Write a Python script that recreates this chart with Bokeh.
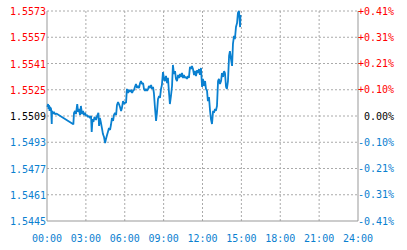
from bokeh.plotting import figure
from bokeh.models import Range1d
from bokeh.core.properties import value
from bokeh.embed import file_html
from bokeh.resources import INLINE

# ---- data (minutes since 00:00, price) ----
times = [2, 5, 7, 9, 12, 14, 19, 22, 23, 28, 32, 37, 45,
         122, 125, 130, 134, 140, 144, 148, 153, 157, 162, 167, 171, 176, 181, 185,
         190, 194, 199, 204, 207, 211, 215, 220, 227, 232, 238, 241, 245, 250, 255,
         259, 264, 269, 273, 278, 282, 287, 292, 296, 301, 306, 310, 315, 320, 324,
         329, 333, 338, 343, 347, 352, 357, 361, 366, 370, 375, 380, 384, 389, 394,
         398, 403, 407, 412, 417, 421, 426, 431, 435, 440, 445, 449, 454, 458, 463,
         468, 472, 477, 482, 486, 491, 495, 500, 505, 509, 514, 519, 523, 528, 532,
         537, 542, 546, 551, 556, 560, 565, 569, 574, 579, 583, 588, 593, 597, 602,
         607, 611, 616, 620, 625, 630, 634, 639, 644, 648, 653, 657, 662, 667, 671,
         676, 681, 685, 690, 695, 699, 704, 708, 713, 718, 722, 727, 732, 736, 741,
         745, 750, 755, 759, 764, 769, 773, 778, 782, 787, 792, 796, 801, 806, 810,
         815, 820, 824, 829, 833, 838, 843, 847, 852, 857, 861, 866, 870, 875, 880,
         884, 889, 894, 896]
prices = [1.55145, 1.55163, 1.55133, 1.55157, 1.55121, 1.55145, 1.55133, 1.55041, 1.55121,
          1.55102, 1.55115, 1.55102, 1.55104,
          1.55039, 1.55109, 1.55121, 1.55102, 1.55163, 1.55115, 1.55133, 1.55096, 1.55151,
          1.55102, 1.55121, 1.55096, 1.55109, 1.55090, 1.55096,
          1.55084, 1.55090, 1.55078, 1.55090, 1.54993, 1.55072, 1.55054, 1.55084, 1.55066,
          1.55090, 1.55110, 1.55029, 1.55078, 1.55047, 1.55011,
          1.54980, 1.54962, 1.54925, 1.54950, 1.54974, 1.54993, 1.55017, 1.55005, 1.55035,
          1.55078, 1.55060, 1.55096, 1.55109, 1.55096, 1.55157,
          1.55175, 1.55163, 1.55145, 1.55121, 1.55139, 1.55181, 1.55163, 1.55175, 1.55169,
          1.55255, 1.55230, 1.55249, 1.55237, 1.55249, 1.55230,
          1.55243, 1.55249, 1.55267, 1.55285, 1.55261, 1.55273, 1.55261, 1.55291, 1.55303,
          1.55285, 1.55291, 1.55255, 1.55243, 1.55255, 1.55243,
          1.55255, 1.55273, 1.55261, 1.55279, 1.55255, 1.55267, 1.55230, 1.55139, 1.55060,
          1.55109, 1.55194, 1.55212, 1.55200, 1.55255, 1.55279,
          1.55358, 1.55316, 1.55303, 1.55334, 1.55291, 1.55322, 1.55230, 1.55163, 1.55212,
          1.55273, 1.55401, 1.55346, 1.55364, 1.55316, 1.55303,
          1.55340, 1.55322, 1.55346, 1.55328, 1.55352, 1.55322, 1.55340, 1.55322, 1.55328,
          1.55316, 1.55334, 1.55322, 1.55389, 1.55376, 1.55395,
          1.55376, 1.55340, 1.55364, 1.55334, 1.55370, 1.55352, 1.55376, 1.55340, 1.55383,
          1.55267, 1.55316, 1.55273, 1.55303, 1.55255, 1.55243,
          1.55181, 1.55206, 1.55121, 1.55072, 1.55041, 1.55121, 1.55109, 1.55133, 1.55121,
          1.55151, 1.55303, 1.55316, 1.55285, 1.55303, 1.55352,
          1.55328, 1.55364, 1.55352, 1.55267, 1.55255, 1.55303, 1.55456, 1.55486, 1.55437,
          1.55395, 1.55529, 1.55578, 1.55559, 1.55632, 1.55657,
          1.55718, 1.55730, 1.55632, 1.55706]

base_price = 1.5509
y_ticks = [1.5445, 1.5461, 1.5477, 1.5493, 1.5509, 1.5525, 1.5541, 1.5557, 1.5573]
x_ticks = [0, 180, 360, 540, 720, 900, 1080, 1260, 1440]
x_tick_labels = ["00:00", "03:00", "06:00", "09:00", "12:00", "15:00", "18:00", "21:00", "24:00"]

RED = "#ff0000"
BLUE = "#0a80d0"
BLACK = "#000000"
GRAY = "#999999"
GRID = "#aaaaaa"
FONT = "DejaVu Sans Mono"

W, H = 407, 250
M_L, M_R, M_T, M_B = 46.5, 49.5, 10.5, 29.5   # margins around the plotting box (px)

xmin, xmax = x_ticks[0], x_ticks[-1]
ymin, ymax = y_ticks[0], y_ticks[-1]
xs = (xmax - xmin) / (W - M_L - M_R)
ys = (ymax - ymin) / (H - M_T - M_B)

p = figure(width=W, height=H, output_backend="svg", toolbar_location=None,
           x_range=Range1d(xmin - M_L * xs, xmax + M_R * xs),
           y_range=Range1d(ymin - M_B * ys, ymax + M_T * ys),
           min_border=0, x_axis_location=None, y_axis_location=None)
p.outline_line_color = None
p.xgrid.visible = False
p.ygrid.visible = False
p.background_fill_color = "white"
p.border_fill_color = "white"

# dotted grid
inner_x = x_ticks[1:-1]
p.segment(x0=inner_x, y0=[ymin] * len(inner_x), x1=inner_x, y1=[ymax] * len(inner_x),
          line_color=GRID, line_dash="2 2", line_width=1)
hy = y_ticks[1:]
p.segment(x0=[xmin] * len(hy), y0=hy, x1=[xmax] * len(hy), y1=hy,
          line_color=GRID, line_dash="2 2", line_width=1)

# solid axis lines (left, right, bottom)
p.segment(x0=[xmin, xmax, xmin], y0=[ymin, ymin, ymin], x1=[xmin, xmax, xmax], y1=[ymax, ymax, ymin],
          line_color=GRAY, line_width=1)

# price line
p.line(times, prices, line_color=BLUE, line_width=1.8)

# coloured tick labels
def col(v):
    if v > base_price + 1e-9:
        return RED
    if v < base_price - 1e-9:
        return BLUE
    return BLACK

colors = [col(v) for v in y_ticks]
left_txt = ["%.4f" % v for v in y_ticks]
right_txt = []
for v in y_ticks:
    q = (v - base_price) / base_price * 100
    if q > 0.0001:
        right_txt.append("+%.2f%%" % q)
    elif q < -0.0001:
        right_txt.append("-%.2f%%" % abs(q))
    else:
        right_txt.append("0.00%")

n = len(y_ticks)
p.text(x=[xmin] * n, y=y_ticks, text=left_txt, text_color=colors, x_offset=-1,
       text_align="right", text_baseline="middle", text_font=value(FONT), text_font_size="10px")
p.text(x=[xmax] * n, y=y_ticks, text=right_txt, text_color=colors, x_offset=36,
       text_align="right", text_baseline="middle", text_font=value(FONT), text_font_size="10px")
p.text(x=x_ticks, y=[ymin] * len(x_ticks), text=x_tick_labels, text_color=BLUE, y_offset=17,
       text_align="center", text_baseline="middle", text_font=value(FONT), text_font_size="10px")

open("out.html", "w").write(file_html(p, INLINE))
